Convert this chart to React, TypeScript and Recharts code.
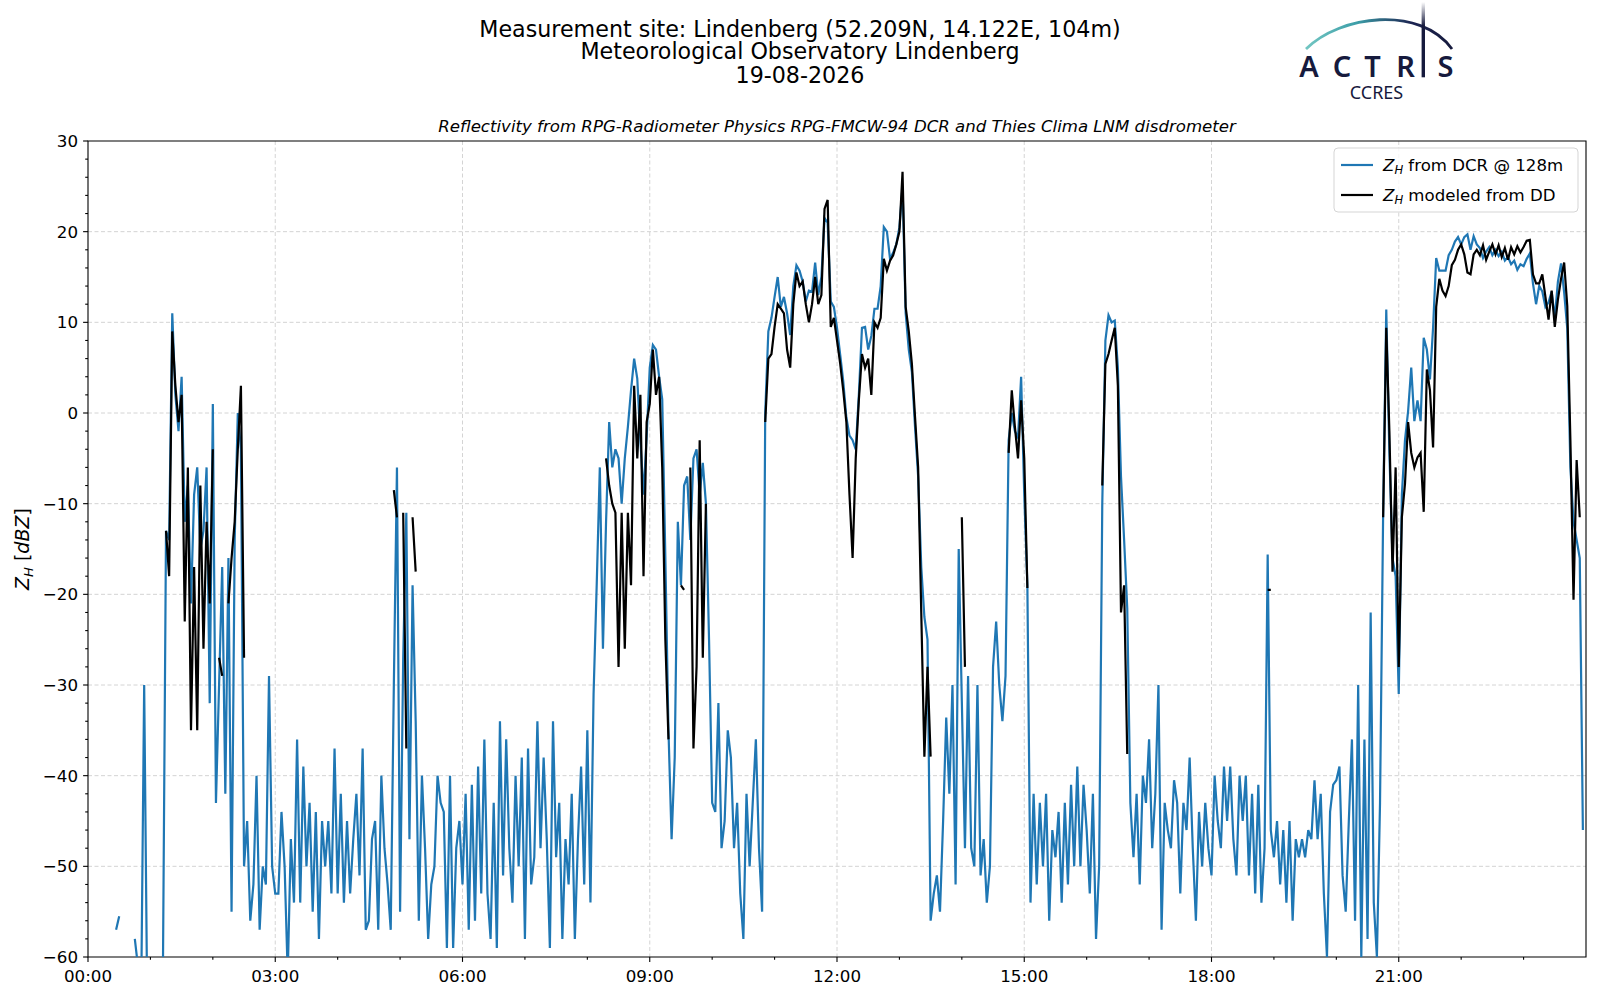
import React from "react";
import {
  LineChart,
  Line,
  XAxis,
  YAxis,
  CartesianGrid,
  ReferenceArea,
} from "recharts";

const FONT = '"DejaVu Sans", sans-serif';
const PLOT_LEFT = 88;
const PLOT_BOTTOM = 957;
const TICK_FS = 16.7;

const _ = null;

// minutes between two samples (20 samples per hour row below)
const STEP_MIN = 3;

// Z_H from DCR @ 128m [dBZ], one row per hour
const dcrZh = [
  _, _, _, _, _, _, _, _, _, -57, -55.5, _, _, _, _, -58, -61, -66, -30, -66,
  -66, -66, -66, -66, -62, -13, -14, 11, 2, -2, 4, -12, -8, -21, -9, -6, -15, -13, -6, -32,
  1, -43, -30, -17, -42, -16, -55, -14, 0, -4, -50, -45, -56, -52, -40, -57, -50, -52, -29, -50,
  -53, -53, -44, -50, -62, -47, -54, -36, -54, -39, -50, -43, -55, -44, -58, -45, -50, -45, -53, -37,
  -53, -42, -54, -45, -53, -47, -42, -51, -37, -57, -56, -47, -45, -57, -40, -48, -52, -57, -30, -6,
  -55, -27, -11, -47, -19, -34, -56, -40, -48, -58, -52, -50, -40, -43, -44, -59, -40, -59, -48, -45,
  -52, -42, -57, -41, -56, -39, -53, -36, -53, -58, -43, -59, -34, -51, -36, -48, -54, -40, -50, -38,
  -58, -37, -52, -49, -34, -48, -38, -47, -59, -34, -49, -43, -58, -47, -52, -42, -58, -47, -39, -52,
  -35, -54, -31, -19, -6, -26, -12, -1, -6, -4, -5, -10, -5, -1.5, 2.5, 6, 3.8, -3, -9, -2.7,
  5, 7.5, 7, 4, 1.5, -16, -35, -47, -38, -12, -19, -8, -7, -14, -5, -4, -9, -5.5, -10, -25,
  -43, -44, -32, -48, -45, -35, -38, -48, -43, -53, -58, -42, -50, -43, -36, -48, -55, 0, 9, 10.5,
  12.8, 15, 11.7, 12.8, 11, 8.6, 14, 16.3, 15.7, 14.5, 12.3, 13.5, 13.4, 16.6, 13, 15, 21.5, 21, 12.3, 11.7,
  9.4, 6.5, 3.5, -0.5, -2.5, -3, -4, 2, 9.4, 9.5, 7, 8.5, 11.5, 11.5, 14, 20.5, 20, 17, 17.7, 18.6,
  20.5, 25, 11, 7, 4.5, -1.5, -7, -17, -22.5, -25, -56, -53, -51, -55, -45, -33.6, -42, -30, -52, -15,
  -31.8, -48, -29, -48, -50, -30, -51, -47, -54, -50, -28, -23, -30, -34, -29, -3, 0, -2, -2.7, 4,
  -9, -19, -54, -42, -52, -43, -50, -42, -56, -46, -49, -44, -54, -43, -52, -41, -50, -39, -50, -41,
  -46, -53, -42, -58, -50, -10, 8, 10.8, 10, 10.2, 5, -7, -14, -21.5, -43, -49, -42, -52, -40, -43,
  -36, -48, -42, -30, -57, -43, -46, -48, -40.5, -43, -53, -43, -46, -38, -48, -56, -44, -50, -43, -48,
  -51, -40, -45, -48, -39, -45, -39, -47, -51, -40, -45, -40, -51, -42, -53, -41, -54, -48, -15.6, -46,
  -49, -45, -52, -46, -54, -45, -56, -47, -49, -47, -49, -46, -47, -40.5, -47, -42, -53, -60, -44, -41,
  -40.5, -39, -51, -55, -45, -36, -56, -30, -60, -36, -58, -22, -54, -60, -43, -11, 11.4, -4.4, -16, -18,
  -31, -9, -3, 0.2, 5, -0.9, 1.4, -0.9, 8.3, 7, 3.7, 9.4, 17.1, 15.7, 15.7, 15.7, 17.4, 18, 18.9, 19.4,
  18.6, 19.4, 19.7, 18, 19.5, 18.6, 18.2, 17.1, 17.8, 18.3, 17.4, 18, 17.3, 17.8, 16.8, 17.2, 16.4, 16.8, 15.8, 16.4,
  16.2, 17, 17.6, 14.3, 12, 14, 13.4, 11.7, 12.2, 13.4, 10.5, 14.5, 16.5, 13.3, 9.3, -6, -12, -14, -16, -46,
];

// Z_H modeled from the disdrometer (DD) [dBZ], one row per hour
const ddZh = [
  _, _, _, _, _, _, _, _, _, _, _, _, _, _, _, _, _, _, _, _,
  _, _, _, _, _, -13, -18, 9, 3, -1, 2, -23, -6, -35, -17, -35, -8, -26, -12, -21,
  -4, _, -27, -29, _, -21, -16, -12, -4, 3, -27, _, _, _, _, _, _, _, _, _,
  _, _, _, _, _, _, _, _, _, _, _, _, _, _, _, _, _, _, _, _,
  _, _, _, _, _, _, _, _, _, _, _, _, _, _, _, _, _, _, -8.5, -11.5,
  _, -11, -37, _, -11.5, -17.5, _, _, _, _, _, _, _, _, _, _, _, _, _, _,
  _, _, _, _, _, _, _, _, _, _, _, _, _, _, _, _, _, _, _, _,
  _, _, _, _, _, _, _, _, _, _, _, _, _, _, _, _, _, _, _, _,
  _, _, _, _, _, _, -5, -8, -10, -11, -28, -11, -26, -11, -19, 3, -5, 2, -18, -1,
  1, 7, 2, 4, -6, -25, -36, _, _, _, -19, -19.5, _, -6, -37, -28, -3, -27, -10, _,
  _, _, _, _, _, _, _, _, _, _, _, _, _, _, _, _, _, -1, 6, 6.5,
  9.5, 12, 11.5, 11, 7, 5, 12, 15.5, 14, 14.5, 12, 10, 12, 15, 12, 13, 22.5, 23.5, 9.5, 10.5,
  8, 5.5, 2.5, -1, -9, -16, -5, 1.4, 6.5, 5, 6, 2, 10, 9.4, 10.5, 17, 15.7, 16.8, 17.4, 18.6,
  20, 26.6, 11.7, 9, 5.4, -0.4, -6, -22, -37.9, -28, -37.9, _, _, _, _, _, _, _, _, _,
  -11.5, -28, _, _, _, _, _, _, _, _, _, _, _, _, _, -4.4, 2.5, -1.5, -5, 1.4,
  -5, -19.3, _, _, _, _, _, _, _, _, _, _, _, _, _, _, _, _, _, _,
  _, _, _, _, _, -8, 5.4, 6.5, 8, 9.4, 3, -22, -19, -37.6, _, _, _, _, _, _,
  _, _, _, _, _, _, _, _, _, _, _, _, _, _, _, _, _, _, _, _,
  _, _, _, _, _, _, _, _, _, _, _, _, _, _, _, _, _, _, -19.5, -19.5,
  _, _, _, _, _, _, _, _, _, _, _, _, _, _, _, _, _, _, _, _,
  _, _, _, _, _, _, _, _, _, _, _, _, _, _, _, -11.5, 9.4, -2, -17.5, -6,
  -28, -11.5, -7.8, -1, -4.4, -6, -4.9, -4.4, -10.9, 4.8, 2.5, -3.8, 11.7, 14.8, 13.5, 12.9, 14, 16.3, 16.9, 18,
  18.6, 17.5, 15.5, 15.3, 17.5, 18, 17.4, 18.5, 16.9, 17.8, 18.6, 17.5, 18.5, 17.2, 18.2, 16.9, 18.3, 17.5, 18.4, 17.7,
  18.3, 19, 19.1, 15.3, 14.3, 14.3, 15.3, 12.8, 10.3, 13.5, 9.5, 12.5, 14.8, 16.6, 11.8, -3, -20.6, -5.2, -11.5, _,
];

const hourTicks = [0, 1, 2, 3, 4, 5, 6, 7, 8, 9, 10, 11, 12, 13, 14, 15, 16, 17, 18, 19, 20, 21, 22, 23];
const xTickLabels = ["00:00", "03:00", "06:00", "09:00", "12:00", "15:00", "18:00", "21:00"];
const gridX = [3, 6, 9, 12, 15, 18, 21];

const yTicks = [
  -60, -58, -56, -54, -52, -50, -48, -46, -44, -42, -40, -38, -36, -34, -32, -30,
  -28, -26, -24, -22, -20, -18, -16, -14, -12, -10, -8, -6, -4, -2, 0,
  2, 4, 6, 8, 10, 12, 14, 16, 18, 20, 22, 24, 26, 28, 30,
];
const gridY = [-50, -40, -30, -20, -10, 0, 10, 20];

const data = dcrZh.map((v, i) => ({
  t: (i * STEP_MIN) / 60,
  dcr: v,
  dd: ddZh[i],
}));

function XTick(props: any) {
  const { x, payload } = props;
  const h = payload.value as number;
  const major = h % 3 === 0;
  return (
    <g>
      <line
        x1={x}
        x2={x}
        y1={PLOT_BOTTOM}
        y2={PLOT_BOTTOM + (major ? 4.9 : 2.8)}
        stroke="#000"
        strokeWidth={1.1}
      />
      {major && (
        <text
          x={x}
          y={PLOT_BOTTOM + 24.5}
          textAnchor="middle"
          fontSize={TICK_FS}
          fontFamily={FONT}
          fill="#000"
        >
          {xTickLabels[h / 3]}
        </text>
      )}
    </g>
  );
}

function YTick(props: any) {
  const { y, payload } = props;
  const v = payload.value as number;
  const major = v % 10 === 0;
  return (
    <g>
      <line
        x1={PLOT_LEFT - (major ? 4.9 : 2.8)}
        x2={PLOT_LEFT}
        y1={y}
        y2={y}
        stroke="#000"
        strokeWidth={1.1}
      />
      {major && (
        <text
          x={PLOT_LEFT - 10}
          y={y + 6}
          textAnchor="end"
          fontSize={TICK_FS}
          fontFamily={FONT}
          fill="#000"
        >
          {String(v).replace("-", "\u2212")}
        </text>
      )}
    </g>
  );
}

function Overlay() {
  const navy = "#161a3d";
  return (
    <svg
      width={1600}
      height={1000}
      style={{ position: "absolute", left: 0, top: 0, pointerEvents: "none" }}
      fontFamily={FONT}
    >
      <defs>
        <linearGradient id="arcGrad" x1="1306" y1="0" x2="1452" y2="0" gradientUnits="userSpaceOnUse">
          <stop offset="0" stopColor="#72c6c2" />
          <stop offset="0.35" stopColor="#3c9ea8" />
          <stop offset="0.72" stopColor="#1d2552" />
          <stop offset="1" stopColor={navy} />
        </linearGradient>
        <linearGradient id="barGrad" x1="0" y1="2" x2="0" y2="50" gradientUnits="userSpaceOnUse">
          <stop offset="0" stopColor={navy} stopOpacity="0" />
          <stop offset="0.5" stopColor={navy} stopOpacity="1" />
          <stop offset="1" stopColor={navy} />
        </linearGradient>
      </defs>

      {/* titles */}
      <text x={800} y={36.6} textAnchor="middle" fontSize={22.2} fill="#000">
        Measurement site: Lindenberg (52.209N, 14.122E, 104m)
      </text>
      <text x={800} y={59.2} textAnchor="middle" fontSize={22.2} fill="#000">
        Meteorological Observatory Lindenberg
      </text>
      <text x={800} y={82.6} textAnchor="middle" fontSize={22.2} fill="#000">
        19-08-2026
      </text>
      <text x={837} y={131.5} textAnchor="middle" fontSize={16.6} fontStyle="italic" fill="#000">
        Reflectivity from RPG-Radiometer Physics RPG-FMCW-94 DCR and Thies Clima LNM disdrometer
      </text>

      {/* y label */}
      <text
        transform="translate(29,549) rotate(-90)"
        textAnchor="middle"
        fontSize={19}
        fill="#000"
      >
        <tspan fontStyle="italic">Z</tspan>
        <tspan fontStyle="italic" fontSize={13} dy={4}>H</tspan>
        <tspan dy={-4}> [</tspan>
        <tspan fontStyle="italic">dBZ</tspan>
        <tspan>]</tspan>
      </text>

      {/* logo */}
      <path d="M1306,49 C1340,15 1420,5 1452,49" fill="none" stroke="url(#arcGrad)" strokeWidth={2.8} />
      <line x1={1423.3} x2={1423.3} y1={2} y2={77.3} stroke="url(#barGrad)" strokeWidth={3.4} />
      <g fontFamily='"Noto Sans", sans-serif' fontSize={29} fontWeight={600} fill={navy} textAnchor="middle">
        <text x={1309} y={77.3}>A</text>
        <text x={1342} y={77.3}>C</text>
        <text x={1372.5} y={77.3}>T</text>
        <text x={1405.5} y={77.3}>R</text>
        <text x={1445.5} y={77.3}>S</text>
      </g>
      <text
        x={1376.5}
        y={99.4}
        textAnchor="middle"
        fontFamily='"Noto Sans", sans-serif'
        fontSize={18}
        fill={navy}
      >
        CCRES
      </text>

      {/* legend */}
      <rect x={1334} y={148} width={244} height={64} rx={4} fill="#fff" fillOpacity={0.8} stroke="#d5d5d5" strokeWidth={1} />
      <line x1={1341} x2={1373} y1={165} y2={165} stroke="#1f77b4" strokeWidth={2.2} />
      <line x1={1341} x2={1373} y1={195} y2={195} stroke="#000" strokeWidth={2.2} />
      <text x={1383} y={171} fontSize={16.6} fill="#000">
        <tspan fontStyle="italic">Z</tspan>
        <tspan fontStyle="italic" fontSize={11.6} dy={3}>H</tspan>
        <tspan dy={-3}> from DCR @ 128m</tspan>
      </text>
      <text x={1383} y={201} fontSize={16.6} fill="#000">
        <tspan fontStyle="italic">Z</tspan>
        <tspan fontStyle="italic" fontSize={11.6} dy={3}>H</tspan>
        <tspan dy={-3}> modeled from DD</tspan>
      </text>
    </svg>
  );
}

export default function App() {
  return (
    <div
      style={{
        position: "absolute",
        left: 0,
        top: 0,
        width: 1600,
        height: 1000,
        background: "#fff",
        fontFamily: FONT,
      }}
    >
      <LineChart
        width={1600}
        height={1000}
        data={data}
        margin={{ top: 141, right: 14, bottom: 13, left: 28 }}
      >
        <CartesianGrid
          stroke="#cfcfcf"
          strokeDasharray="4 2.5"
          strokeWidth={0.9}
          horizontalValues={gridY}
          verticalValues={gridX}
        />
        <XAxis
          dataKey="t"
          type="number"
          domain={[0, 24]}
          ticks={hourTicks}
          interval={0}
          allowDataOverflow
          height={30}
          axisLine={false}
          tickLine={false}
          tick={(p: any) => <XTick {...p} />}
        />
        <YAxis
          type="number"
          domain={[-60, 30]}
          ticks={yTicks}
          interval={0}
          allowDataOverflow
          width={60}
          axisLine={false}
          tickLine={false}
          tick={(p: any) => <YTick {...p} />}
        />
        <Line
          type="linear"
          dataKey="dcr"
          stroke="#1f77b4"
          strokeWidth={2.2}
          dot={false}
          activeDot={false}
          connectNulls={false}
          isAnimationActive={false}
        />
        <Line
          type="linear"
          dataKey="dd"
          stroke="#000"
          strokeWidth={2.2}
          dot={false}
          activeDot={false}
          connectNulls={false}
          isAnimationActive={false}
        />
        <ReferenceArea
          x1={0}
          x2={24}
          y1={-60}
          y2={30}
          fill="none"
          fillOpacity={0}
          stroke="#000"
          strokeWidth={1.1}
          ifOverflow="visible"
        />
      </LineChart>
      <Overlay />
    </div>
  );
}
